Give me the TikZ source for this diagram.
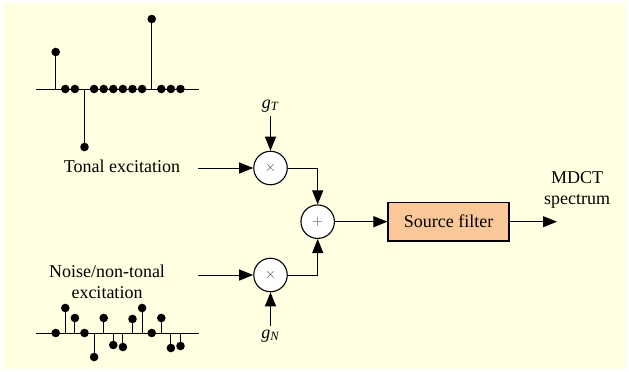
\documentclass[tikz,border=0pt]{standalone}
\usepackage{fontspec}
\setmainfont{Liberation Serif}
\usepackage{xcolor}
\usetikzlibrary{arrows.meta,positioning,calc}
\definecolor{fond}{RGB}{255,255,225}
\definecolor{filtre}{RGB}{250,200,152}
\newcommand{\gain}[1]{\textit{g}\textsubscript{\textit{#1}}}

\begin{document}
\begin{tikzpicture}[
x=1pt,y=-1pt,
font=\fontsize{18}{21}\selectfont,
op/.style = {
  circle,
  draw,
  line width=1.1pt,
  fill=white,
  minimum size=33.5pt,
  inner sep=0pt,
  font=\fontsize{14}{14}\selectfont,
  text=black!70},
bloc/.style = {
  rectangle,
  draw,
  line width=1.1pt,
  fill=filtre,
  minimum width=121pt,
  minimum height=38.5pt},
line/.style = {draw=black,line width=1pt,-{Triangle[length=14pt,width=11pt]}},
stem/.style = {draw=black,line width=1pt},
]
\useasboundingbox (0,0) rectangle (629,372);
\fill[fond] (3,3) rectangle (626,369);

% tonal and noise sequences
\draw[stem] (36,89) -- (199,89);
\foreach \k/\h in {0/37,1/0,2/0,3/-58,4/0,5/0,6/0,7/0,8/0,9/0,10/70,11/0,12/0,13/0}{
  \draw[stem] ({55.7+9.6*\k},89) -- ({55.7+9.6*\k},{89-\h});
  \fill ({55.7+9.6*\k},{89-\h}) circle[radius=4.3pt];
}
\draw[stem] (36,333) -- (199,333);
\foreach \k/\h in {0/0,1/25,2/15,3/0,4/-24,5/15,6/-12,7/-14,8/14,9/25,10/0,11/15,12/-15,13/-13}{
  \draw[stem] ({55.7+9.6*\k},333) -- ({55.7+9.6*\k},{333-\h});
  \fill ({55.7+9.6*\k},{333-\h}) circle[radius=4.3pt];
}

\node (tonal) at (122,166) {Tonal excitation};
\node[align=center] (noise) at (107,282) {Noise/non-tonal\\excitation};
\coordinate (inT) at (198,168);
\coordinate (inN) at (198,275);

\node[op] (mulT) at (270.5,168) {$\times$};
\node[op] (sum) at (317.7,221.7) {$+$};
\node[op] (mulN) at (270.5,275) {$\times$};
\node (gT) at (270.5,106) {\gain{T}};
\node (gN) at (270.5,336) {\gain{N}};

\node[bloc] (filter) at (448.5,221.7) {Source filter};
\coordinate (out) at (557,221.7);
\node[align=center] (mdct) at (577,190) {MDCT\\spectrum};

 \begin{scope}[every path/.style=line]
\path (inT) -- (mulT);
\path (inN) -- (mulN);
\path (gT) -- (mulT);
\path (gN) -- (mulN);
\path (mulT) -| (sum);
\path (mulN) -| (sum);
\path (sum) -- (filter);
\path (filter) -- (out);
\end{scope}

\end{tikzpicture}
\end{document}
